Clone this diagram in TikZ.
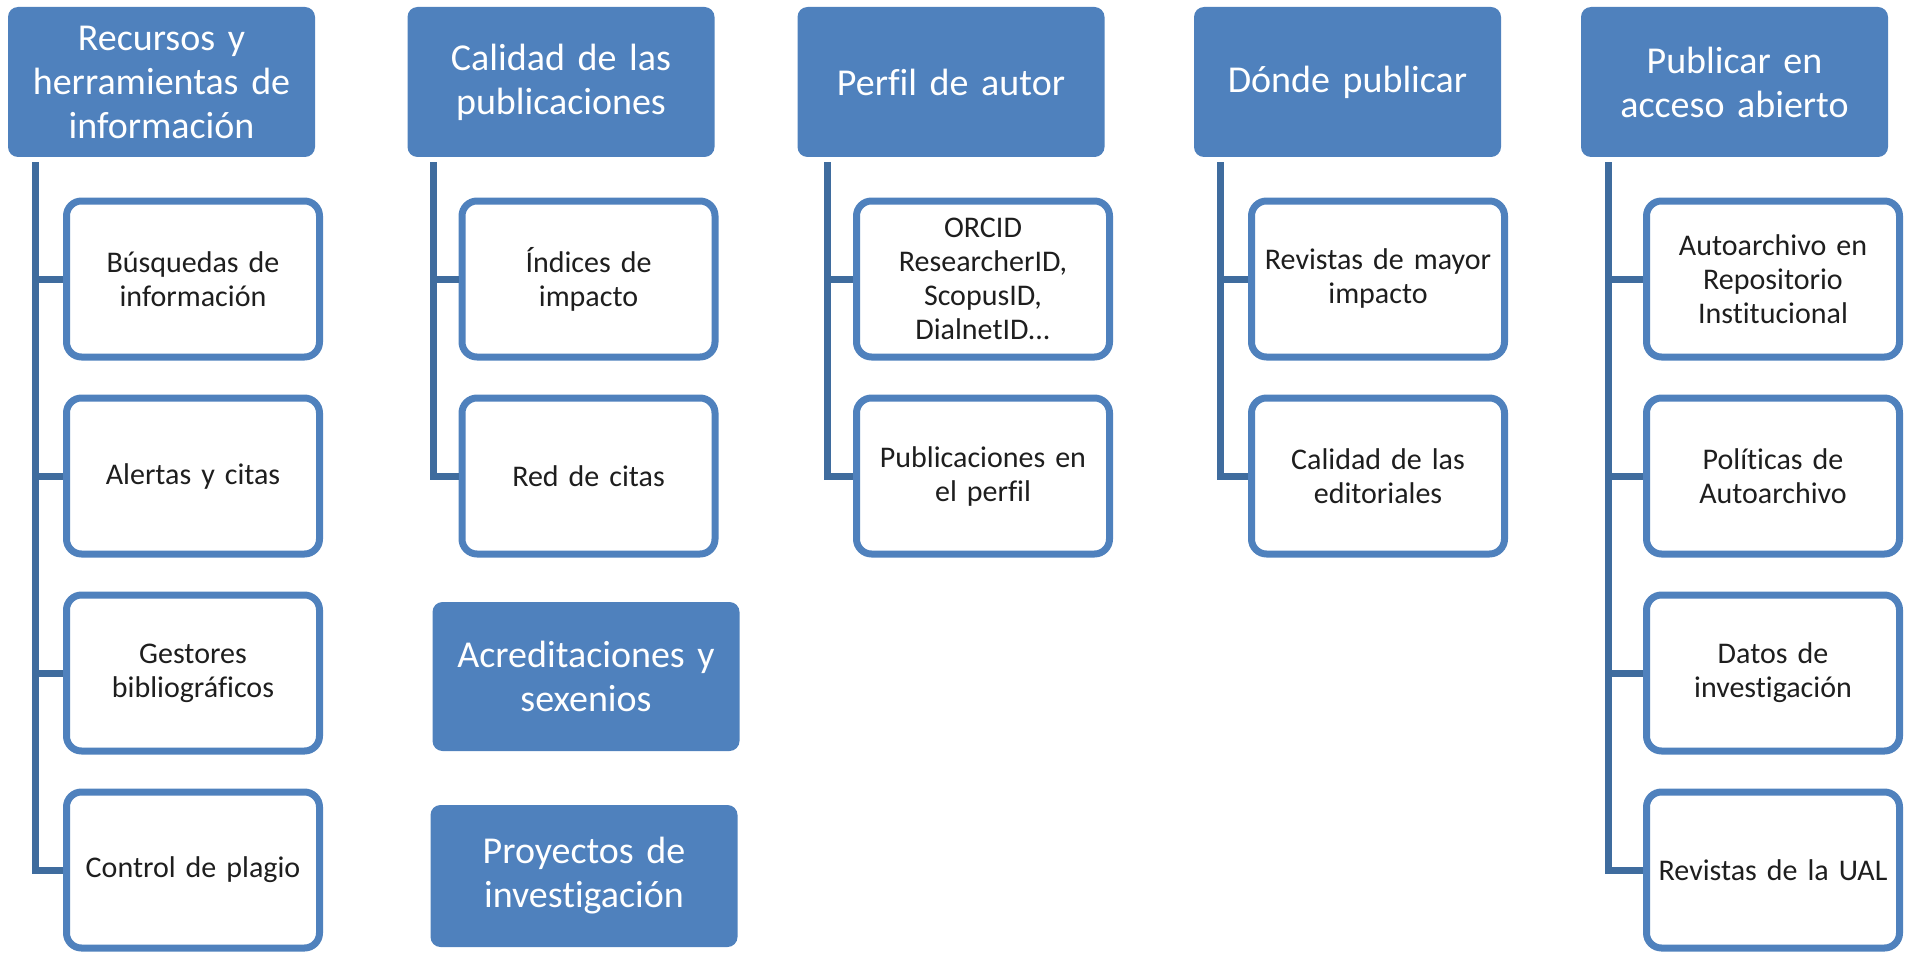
\documentclass[tikz,border=0pt]{standalone}
\usepackage{fontspec}
\setmainfont{Carlito}[Ligatures={NoCommon,NoContextual}, Contextuals=NoAlternate, RawFeature=-dlig]
\newcommand{\nl}{\kern0pt }
\definecolor{hdrblue}{HTML}{4F81BD}
\definecolor{lineblue}{HTML}{3F6C9E}
\definecolor{txt}{HTML}{1E1E1E}
\tikzset{
  hdr/.style={fill=hdrblue, rounded corners=10pt, text=white, inner sep=0pt,
    minimum width=307pt, minimum height=150pt, align=center, text width=300pt,
    font=\fontsize{38}{44}\selectfont},
  sub/.style={draw=hdrblue, line width=7pt, fill=white, rounded corners=15pt, inner sep=0pt,
    minimum width=253pt, minimum height=156pt, align=center, text width=248pt, text=txt,
    font=\fontsize{30}{34}\selectfont},
  conn/.style={draw=lineblue, line width=7pt}
}
\begin{document}
\begin{tikzpicture}[x=1pt,y=-1pt]
\useasboundingbox (0,0) rectangle (1906,955);
% headers
\node[hdr] (h1) at (161.5,82) {Recursos y\\herramientas de\\información};
\node[hdr] (h2) at (561,82) {Calidad de las\\publicaciones};
\node[hdr] (h3) at (951,82) {Perf\nl il de autor};
\node[hdr] (h4) at (1347.5,82) {Dónde publicar};
\node[hdr] (h5) at (1734.5,82) {Publicar en\\acceso abierto};
\node[hdr, minimum height=149pt] (h6) at (586,676.5) {Acreditaciones y\\sexenios};
\node[hdr, minimum height=142pt] (h7) at (584,876) {Proyectos de\\invest\nl igación};
% column 1
\node[sub] (c11) at (193,279) {Búsquedas de\\información};
\node[sub] (c12) at (193,476) {Alertas y citas};
\node[sub] (c13) at (193,673) {Gestores\\bibliográf\nl icos};
\node[sub] (c14) at (193,870) {Control de plagio};
% column 2
\node[sub] (c21) at (588.5,279) {Índices de\\impacto};
\node[sub] (c22) at (588.5,476) {Red de citas};
% column 3
\node[sub] (c31) at (983,279) {ORCID\\ResearcherID,\\ScopusID,\\DialnetID...};
\node[sub] (c32) at (983,476) {Publicaciones en\\el perf\nl il};
% column 4
\node[sub] (c41) at (1378,279) {Revistas de mayor\\impacto};
\node[sub] (c42) at (1378,476) {Calidad de las\\editoriales};
% column 5
\node[sub] (c51) at (1773,279) {Autoarchivo en\\Repositorio\\Inst\nl itucional};
\node[sub] (c52) at (1773,476) {Polít\nl icas de\\Autoarchivo};
\node[sub] (c53) at (1773,673) {Datos de\\invest\nl igación};
\node[sub] (c54) at (1773,870) {Revistas de la UAL};
% trunk tops
\coordinate (t1) at (35,162);
\coordinate (t2) at (433,162);
\coordinate (t3) at (827,162);
\coordinate (t4) at (1220,162);
\coordinate (t5) at (1608,162);
% connectors
\draw[conn] (t1) |- (c14.west);
\draw[conn] (t1 |- c11.west) -- (c11.west);
\draw[conn] (t1 |- c12.west) -- (c12.west);
\draw[conn] (t1 |- c13.west) -- (c13.west);
\draw[conn] (t2) |- (c22.west);
\draw[conn] (t2 |- c21.west) -- (c21.west);
\draw[conn] (t3) |- (c32.west);
\draw[conn] (t3 |- c31.west) -- (c31.west);
\draw[conn] (t4) |- (c42.west);
\draw[conn] (t4 |- c41.west) -- (c41.west);
\draw[conn] (t5) |- (c54.west);
\draw[conn] (t5 |- c51.west) -- (c51.west);
\draw[conn] (t5 |- c52.west) -- (c52.west);
\draw[conn] (t5 |- c53.west) -- (c53.west);
\end{tikzpicture}
\end{document}
